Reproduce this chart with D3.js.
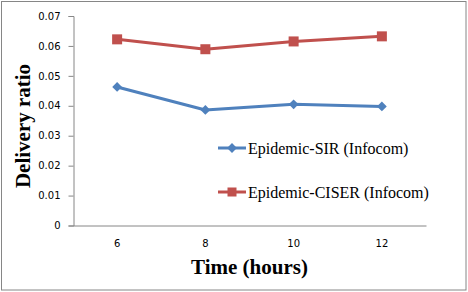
<!DOCTYPE html>
<html><head><meta charset="utf-8">
<script src="https://cdn.jsdelivr.net/npm/d3@7"></script>
<style>html,body{margin:0;padding:0;background:#fff}svg{display:block}
.serif{font-family:"Liberation Serif","Times New Roman",serif}</style>
</head><body>
<svg id="c" width="468" height="292"></svg>
<script>
const categories = ["6", "8", "10", "12"];
const sirValues = [0.0463, 0.0386, 0.0405, 0.0398];
const ciserValues = [0.0622, 0.0589, 0.0615, 0.0632];
const yTicks = [0, 0.01, 0.02, 0.03, 0.04, 0.05, 0.06, 0.07];
const seriesNames = ["Epidemic-SIR (Infocom)", "Epidemic-CISER (Infocom)"];

const svg = d3.select("#c");
svg.append("rect").attr("x", 1.5).attr("y", 1.5).attr("width", 464.5).attr("height", 288.5)
  .attr("fill", "#fff").attr("stroke", "#868686").attr("stroke-width", 1);

const L = 73, R = 426, T = 16, B = 225.5;
const x = d3.scaleBand().domain(categories).range([L, R]);
const y = d3.scaleLinear().domain([0, 0.07]).range([B, T]);

const yAxis = svg.append("g").attr("transform", `translate(${L + 0.5},0)`)
  .call(d3.axisLeft(y).tickValues(yTicks).tickSize(5).tickPadding(8)
    .tickFormat(d => d === 0 ? "0" : d3.format(".2f")(d)));
yAxis.select(".domain").attr("stroke", "#868686");
yAxis.selectAll(".tick line").attr("stroke", "#868686");
yAxis.selectAll("text").attr("font-family", "DejaVu Sans").attr("font-size", 10).attr("fill", "#000");

const xAxis = svg.append("g").attr("transform", `translate(0,${B})`)
  .call(d3.axisBottom(x).tickSize(0).tickPadding(14).tickSizeOuter(0));
xAxis.select(".domain").attr("stroke", "#868686");
xAxis.selectAll("text").attr("font-family", "DejaVu Sans").attr("font-size", 10).attr("fill", "#000");

const cx = d => x(d) + x.bandwidth() / 2;
const line = d3.line().x((d, i) => cx(categories[i])).y(d => y(d));

const blue = "#4F81BD", red = "#C0504D";
svg.append("path").datum(sirValues).attr("d", line).attr("fill", "none")
  .attr("stroke", blue).attr("stroke-width", 3).attr("stroke-linejoin", "round");
svg.append("path").datum(ciserValues).attr("d", line).attr("fill", "none")
  .attr("stroke", red).attr("stroke-width", 3).attr("stroke-linejoin", "round");

const diamond = d3.symbol().type(d3.symbolSquare).size(48);
svg.selectAll(".mb").data(sirValues).enter().append("path")
  .attr("d", diamond).attr("fill", blue)
  .attr("transform", (d, i) => `translate(${cx(categories[i])},${y(d)}) rotate(45)`);
svg.selectAll(".mr").data(ciserValues).enter().append("rect")
  .attr("x", (d, i) => cx(categories[i]) - 5).attr("y", d => y(d) - 5)
  .attr("width", 10).attr("height", 10).attr("fill", red);

// legend
const legY = [148, 192];
const colors = [blue, red];
seriesNames.forEach((n, i) => {
  const g = svg.append("g");
  g.append("line").attr("x1", 218).attr("x2", 246).attr("y1", legY[i]).attr("y2", legY[i])
    .attr("stroke", colors[i]).attr("stroke-width", 3);
  if (i === 0) {
    g.append("path").attr("d", diamond).attr("fill", blue)
      .attr("transform", `translate(232,${legY[i]}) rotate(45)`);
  } else {
    g.append("rect").attr("x", 227.5).attr("y", legY[i] - 4.5).attr("width", 9).attr("height", 9).attr("fill", red);
  }
  g.append("text").attr("class", "serif").attr("x", 248).attr("y", legY[i] + 6).text(n)
    .attr("font-size", 16).attr("fill", "#000");
});

svg.append("text").attr("class", "serif").attr("x", (L + R) / 2).attr("y", 274).attr("text-anchor", "middle")
  .attr("font-weight", "bold").attr("font-size", 21)
  .text("Time (hours)");
svg.append("text").attr("class", "serif").attr("transform", "translate(30,126) rotate(-90)").attr("text-anchor", "middle")
  .attr("font-weight", "bold").attr("font-size", 21)
  .text("Delivery ratio");
</script>
</body></html>
